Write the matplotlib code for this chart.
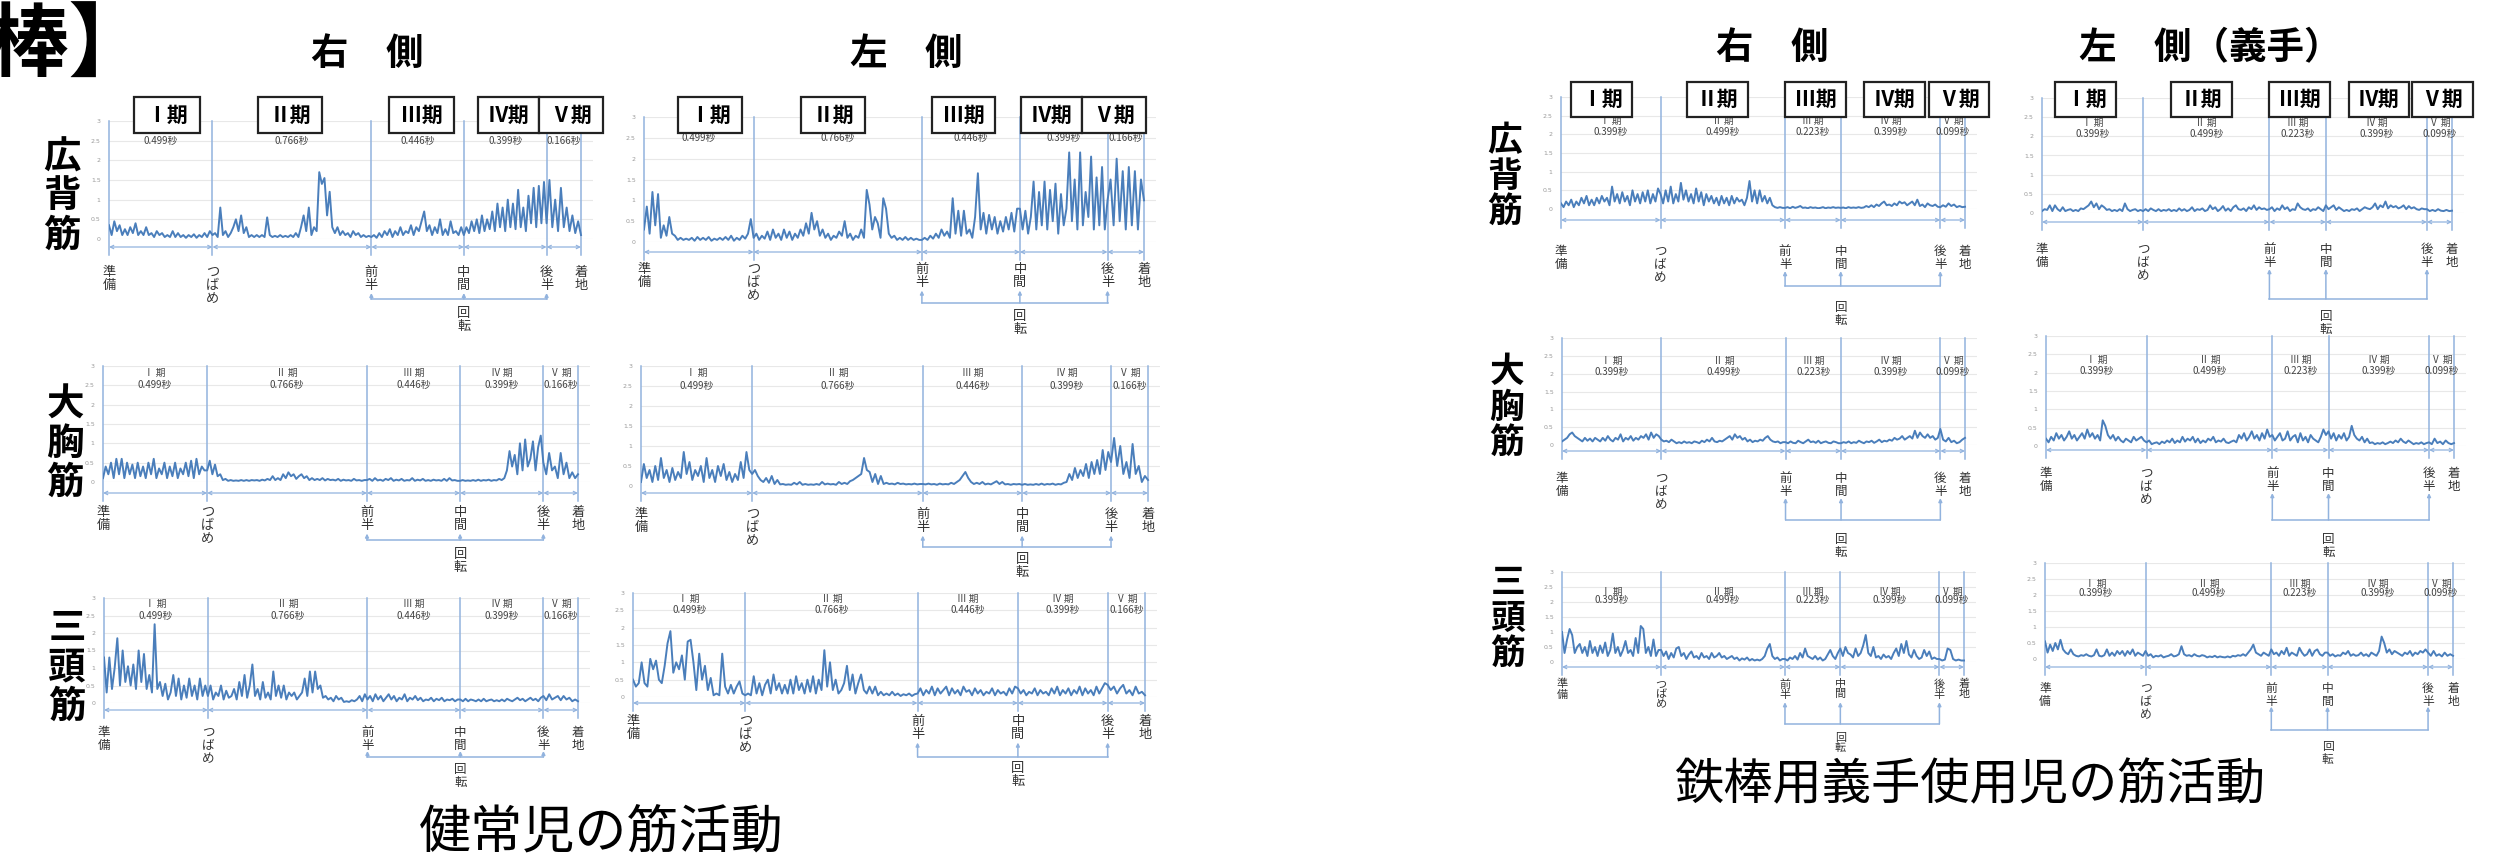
import matplotlib
matplotlib.use("Agg")
import matplotlib.pyplot as plt
from matplotlib.patches import Rectangle
import numpy as np

plt.rcParams['font.family'] = ['Noto Sans CJK JP', 'DejaVu Sans']

W, H = 2518, 865

phase_names = ["Ⅰ 期", "Ⅱ 期", "Ⅲ 期", "Ⅳ 期", "Ⅴ 期"]
box_names = ["Ⅰ期", "Ⅱ期", "Ⅲ期", "Ⅳ期", "Ⅴ期"]
healthy_sec = [0.499, 0.766, 0.446, 0.399, 0.166]
prosth_sec = [0.399, 0.499, 0.223, 0.399, 0.099]
event_labels = ["準\n備", "つ\nば\nめ", "前\n半", "中\n間", "後\n半", "着\n地"]
muscles = ["広\n背\n筋", "大\n胸\n筋", "三\n頭\n筋"]
y_ticks = [0, 0.5, 1, 1.5, 2, 2.5, 3]
y_tick_labels = ["0", "0.5", "1", "1.5", "2", "2.5", "3"]

# EMG, in 1/100 units, one list per phase (I..V)
h_lat_r = [
    [35,10,45,20,35,10,25,10,30,15,40,10,20,10,30,10,15,5,20,10,15,5,10,5,20,5,15,5,10,3,10,5,12,3,10,5,15,5,20],
    [10,15,5,80,10,20,5,15,30,50,20,60,15,30,5,10,5,10,5,10,5,55,10,5,8,5,10,5,8,5,10,5,15,5,30,60,20,80,10,30,20,170,140,155,60,120,30,15,30,10,20,10,15,5,20,10,15,5,10,5,8],
    [5,10,3,15,5,20,10,25,5,20,10,30,10,20,15,35,10,30,20,45,70,20,35,10,30,15,50,10,25,10,45,15,20,10,30],
    [10,30,15,45,20,50,15,60,20,50,25,70,20,90,30,80,20,100,30,90,25,125,30,80,20,110,40,130,30,135,40,145],
    [40,150,30,100,20,130,30,80,20,60,15,45,10],
]
h_lat_l = [
    [30,85,20,120,40,115,10,40,15,60,20,15,5,10,5,8,5,10,3,12,5,10,5,12,3,8,5,10,5,12,5,15,3,10,5,15,8,20,55],
    [10,20,5,15,8,25,5,30,10,20,5,30,10,25,5,20,10,30,15,45,20,70,30,50,15,30,10,20,5,15,10,25,15,50,10,20,5,15,10,30,10,125,90,30,60,45,10,105,80,20,10,15,5,10,5,12,5,10,5,8,5],
    [5,10,5,15,8,20,10,30,15,25,10,105,20,75,15,75,20,30,10,60,165,30,70,20,65,30,60,20,50,25,60,30,70,25,80],
    [80,30,75,20,60,145,30,120,40,145,30,125,50,140,20,115,40,80,215,50,150,30,215,40,120,60,205,30,155,40,180,30],
    [100,150,40,200,50,170,30,180,40,170,30,150,100],
]
h_pec_r = [
    [10,40,20,50,10,60,20,60,10,50,20,45,10,50,15,40,10,50,20,60,10,35,20,50,10,40,15,50,10,35,20,50,15,55,10,60,20,40,30],
    [30,55,20,45,15,20,5,8,3,5,3,4,3,5,3,5,3,5,4,5,3,6,4,8,5,15,5,10,5,20,10,25,15,20,8,15,20,10,15,5,10,5,8,5,10,4,8,5,6,4,8,3,6,4,5,3,8,4,5,3,5],
    [5,8,3,10,4,6,3,8,5,10,3,6,4,8,3,5,4,10,3,6,4,8,3,5,3,6,4,5,3,8,3,10,4,5,3],
    [3,5,3,4,3,5,3,6,3,5,4,6,3,5,4,8,5,10,30,80,40,70,20,100,30,110,40,60,105,30,90,120],
    [50,20,75,30,40,10,75,20,50,10,25,10,20],
]
h_pec_l = [
    [10,55,20,40,10,50,15,70,20,40,10,45,15,35,20,85,30,60,15,40,25,50,10,70,20,40,10,50,25,55,15,35,10,30,15,60,20,85,40],
    [30,40,25,15,10,20,8,25,5,15,4,5,3,4,3,8,4,10,3,5,3,4,3,5,3,10,4,6,4,5,3,10,5,8,5,12,15,20,25,30,70,40,35,10,30,5,25,5,8,5,6,4,8,5,6,4,5,4,6,4,5],
    [5,4,6,4,5,3,6,4,5,4,8,5,10,15,25,35,20,10,5,8,5,10,4,6,4,8,12,5,10,4,5,3,5,4,5],
    [3,5,3,4,3,5,3,6,3,5,4,6,3,5,4,8,10,30,15,45,20,40,25,55,20,60,30,65,30,90,40,85],
    [60,120,50,100,30,60,20,105,30,50,10,25,15],
]
h_tri_r = [
    [130,30,130,40,100,185,50,150,60,105,50,110,40,150,60,140,40,80,30,225,40,60,20,55,10,30,80,20,70,10,50,15,70,20,50,10,70,20,50],
    [20,50,10,30,20,50,10,35,15,20,40,10,60,20,80,15,50,110,20,40,10,60,15,30,10,90,20,50,15,50,10,30,20,30,10,20,30,70,20,90,30,90,40,50,15,20,10,15,5,20,10,15,3,5,3,8,5,10,20,5,25],
    [10,20,5,25,10,20,5,15,25,10,20,5,15,10,25,5,15,10,20,8,15,5,10,8,15,5,12,8,15,5,10,8,12,5,10],
    [10,5,12,5,10,8,5,10,5,12,5,8,10,5,8,5,10,5,12,8,5,10,15,8,12,5,10,15,8,12,5,15],
    [20,8,25,10,15,20,8,20,10,15,5,10,5],
]
h_tri_l = [
    [50,30,40,100,40,30,110,80,105,50,40,90,155,190,70,100,80,120,50,160,165,100,20,125,50,90,20,55,5,10,5,125,30,10,35,10,30,45,10],
    [5,10,5,60,10,40,5,35,50,10,65,20,40,10,35,10,50,10,60,20,40,10,50,15,60,10,50,20,135,30,100,20,50,10,20,40,90,20,65,10,40,65,20,10,30,10,30,5,15,5,10,5,15,5,10,3,8,5,10,3,8],
    [10,25,5,20,10,30,5,25,10,20,30,5,25,10,20,5,30,15,20,5,25,10,20,5,15,10,25,5,20,10,15,5,25,10,30],
    [25,10,20,5,15,10,25,5,20,10,15,5,25,10,30,5,20,10,25,5,20,10,30,5,25,10,20,5,30,10,25,40],
    [35,20,30,10,25,35,10,20,5,30,10,15,5],
]
p_lat_r = [
    [15,5,20,10,25,5,20,10,30,15,35,10,25,10,30,15,35,20,30,10,60,20,40,15,45,20,35,10,50,20,40,15,45,20,50,15,40,20,55],
    [40,15,50,20,60,15,40,20,70,25,50,20,40,15,55,20,45,10,40,20,35,15,30,10,35,15,30,10,35,15,30,20,25,10,30,75,20,50,15,50,20,35,15,30,10,5,3,5,3],
    [3,5,2,6,3,5,8,3,4,2,5,3,4,2,3,5,2,4,3,5,3,4],
    [3,4,2,5,3,4,3,5,3,4,8,5,10,5,12,8,15,20,10,12,8,15,10,20,15,18,10,15,20,10,25,8,12,5,15,10,8,12,6],
    [5,10,6,15,8,12,5,8,5,6],
]
p_lat_l = [
    [5,10,8,20,5,20,10,5,15,5,8,10,5,8,5,12,10,15,20,30,15,25,10,20,15,8,10,5,8,5,10,5,25,10,5,8,10,5,8],
    [5,10,5,12,8,5,10,5,8,6,10,5,8,5,12,6,10,5,8,15,5,10,8,12,5,8,20,10,15,5,10,18,6,12,5,15,20,10,8,12,5,15,10,20,8,15,10,12,8],
    [10,15,5,12,8,20,10,15,5,10,8,25,15,10,8,12,5,10,8,15,10,5],
    [20,10,15,20,8,15,10,5,8,5,10,8,12,5,10,15,12,10,15,25,10,20,15,30,12,20,15,18,12,15,20,10,18,12,15,10,8,12,10],
    [10,5,8,5,10,6,5,8,5,6],
]
p_pec_r = [
    [10,15,20,30,35,25,20,15,10,20,12,18,10,20,15,10,20,12,25,15,10,20,15,30,10,20,15,25,12,20,15,25,20,30,15,35,20,30,25],
    [15,10,12,8,15,10,5,8,5,10,6,8,5,10,8,5,12,8,15,10,20,10,8,12,10,15,20,25,15,30,20,25,15,20,10,15,8,12,10,15,12,20,25,15,10,8,10,5,8],
    [8,5,10,6,5,12,8,5,10,15,8,10,6,12,5,8,10,6,5,10,8,5],
    [5,8,6,10,5,8,6,12,8,5,10,8,12,6,10,15,8,12,10,15,12,20,15,18,25,15,20,25,18,40,20,35,25,20,30,20,25,15,20],
    [45,15,10,20,8,12,5,8,15,20],
]
p_pec_l = [
    [20,10,25,15,35,20,30,15,25,40,20,30,15,25,35,20,45,25,35,20,30,15,70,55,30,20,30,15,25,15,10,20,15,10,25,15,20,25,15],
    [10,15,5,8,10,5,12,8,15,10,20,8,15,10,25,12,20,15,25,10,20,8,15,10,20,15,25,10,15,12,20,10,8,12,15,10,30,20,35,15,25,40,20,30,15,35,20,45,25],
    [30,15,25,35,15,20,40,15,25,30,10,35,15,25,10,30,20,15,10,25,45,30],
    [40,20,35,15,30,20,35,15,25,55,30,20,15,25,10,20,8,10,5,8,6,10,5,8,12,8,15,10,20,12,8,15,10,5,8,6,10,5,8],
    [10,5,20,8,12,5,15,8,5,8],
]
p_tri_r = [
    [100,30,75,110,90,30,50,60,30,50,20,70,30,50,20,55,30,65,20,40,95,30,50,20,40,70,30,40,20,80,30,120,110,30,50,20,75,20,40],
    [40,20,35,10,30,15,45,50,20,30,10,25,35,15,20,10,30,15,20,10,30,15,20,30,15,20,10,15,20,10,15,5,12,8,15,5,10,5,8,5,10,20,45,60,20,10,15,5,10],
    [10,5,15,10,20,8,30,15,45,20,15,10,20,8,15,5,10,25,40,20,10,30],
    [45,20,50,30,25,15,45,20,30,55,90,30,20,50,15,20,10,25,15,20,10,30,45,20,60,30,70,25,15,40,20,10,15,40,20,35,10,15,10],
    [10,5,8,45,40,10,5,8,5,5],
]
p_tri_l = [
    [55,20,45,25,50,30,60,30,20,15,30,15,10,8,12,10,15,10,8,12,30,10,8,12,30,10,20,10,25,15,25,10,25,15,30,10,20,15,10],
    [25,10,15,5,10,8,12,5,8,10,15,8,10,15,40,15,10,12,8,15,10,8,12,10,5,8,6,10,5,8,6,5,8,5,10,8,12,10,15,10,20,30,45,20,15,10,20,15,10],
    [30,15,20,10,25,15,35,10,20,15,10,35,20,10,15,30,10,25,30,15,10,20],
    [20,10,15,8,12,10,20,15,25,10,15,10,12,20,10,15,8,20,15,10,25,70,50,20,30,15,25,20,15,10,20,15,25,10,20,15,25,20,30],
    [20,10,25,10,15,8,20,10,15,10],
]

EMG = '#4a7ebb'
GUIDE = '#92b3de'

fig = plt.figure(figsize=(W / 100, H / 100), dpi=100)
fig.patch.set_facecolor('white')


def draw_panel(emg, secs, x0, x1, y0, y3, offs, fs, show_phase=True):
    arrow_px, label_px, bracket_px, turn_px = offs
    ppu = (y0 - y3) / 3.0
    total = sum(secs)
    extra = 12
    ax = fig.add_axes([x0 / W, 1 - y0 / H, (x1 - x0 + extra) / W, (y0 - y3) / H])
    ax.set_xlim(0, total * (x1 - x0 + extra) / (x1 - x0))
    ax.set_ylim(0, 3)
    for s in ax.spines.values():
        s.set_visible(False)
    ax.set_xticks([])
    ax.set_yticks(y_ticks)
    ax.set_yticklabels(y_tick_labels, fontsize=4.5, color='#9a9a9a', family='DejaVu Sans')
    ax.tick_params(axis='y', length=0, pad=6)
    ax.grid(axis='y', color='#e8e8e8', lw=0.8)
    ax.set_axisbelow(True)
    ax.patch.set_alpha(0)

    b = np.concatenate([[0], np.cumsum(secs)])
    xs, ys = [], []
    for k, seg in enumerate(emg):
        xs.append(np.linspace(b[k], b[k + 1], len(seg), endpoint=(k == len(emg) - 1)))
        ys.append(np.array(seg) / 100.0)
    ax.plot(np.concatenate(xs), np.concatenate(ys), color=EMG, lw=1.4, zorder=3)

    def dy(px):
        return -px / ppu

    for t in b:
        ax.plot([t, t], [3, dy(arrow_px + 8)], color=GUIDE, lw=1.1, clip_on=False, zorder=2)
    ya, yb = (2.82, 2.5) if secs is healthy_sec else (2.35, 2.05)
    for k in range(5):
        ax.annotate('', xy=(b[k + 1], dy(arrow_px)), xytext=(b[k], dy(arrow_px)),
                    arrowprops=dict(arrowstyle='<->', color=GUIDE, lw=0.9, shrinkA=0, shrinkB=0,
                                    mutation_scale=6), annotation_clip=False)
        mid = (b[k] + b[k + 1]) / 2
        if show_phase:
            ax.text(mid, ya, phase_names[k], ha='center', va='center', fontsize=7, color='#444444')
        ax.text(mid, yb, f"{secs[k]:.3f}秒", ha='center', va='center', fontsize=7, color='#444444')
    for t, lab in zip(b, event_labels):
        ax.text(t, dy(label_px), lab, ha='center', va='top', fontsize=fs, color='#333333',
                linespacing=1.0, clip_on=False)
    # rotation bracket
    ybr = dy(bracket_px)
    tip = dy(min(label_px + 2.9 * fs, bracket_px - 6))
    ax.plot([b[2], b[4]], [ybr, ybr], color=GUIDE, lw=1.1, clip_on=False)
    for t in (b[2], b[3], b[4]):
        ax.annotate('', xy=(t, tip), xytext=(t, ybr),
                    arrowprops=dict(arrowstyle='-|>', color=GUIDE, lw=1.1, shrinkA=0, shrinkB=0,
                                    mutation_scale=5), annotation_clip=False)
    ax.text(b[3], dy(turn_px), "回\n転", ha='center', va='top', fontsize=fs, color='#333333',
            linespacing=1.0, clip_on=False)
    return ax


# data, durations, left px, right px, zero px, top px, (arrow, label, bracket, turn) offsets, label size
panels = [
    (h_lat_r, healthy_sec, 109, 581, 239, 121, (8, 27, 60, 68), 9.5, False),
    (h_lat_l, healthy_sec, 644, 1144, 242, 117, (10, 21, 61, 68), 9.5, False),
    (h_pec_r, healthy_sec, 103, 578, 482, 366, (11, 24, 58, 66), 9.5),
    (h_pec_l, healthy_sec, 641, 1148, 486, 366, (7, 22, 61, 67), 9.5),
    (h_tri_r, healthy_sec, 104, 578, 703, 598, (7, 23, 54, 60), 9),
    (h_tri_l, healthy_sec, 633, 1145, 697, 593, (6, 18, 60, 65), 9.5),
    (p_lat_r, prosth_sec, 1561, 1965, 209, 97, (11, 36, 77, 92), 9),
    (p_lat_l, prosth_sec, 2042, 2452, 213, 98, (9, 30, 86, 97), 9),
    (p_pec_r, prosth_sec, 1562, 1965, 445, 338, (6, 27, 75, 88), 9),
    (p_pec_l, prosth_sec, 2046, 2454, 446, 336, (4, 21, 74, 87), 9),
    (p_tri_r, prosth_sec, 1562, 1964, 662, 572, (5, 17, 62, 71), 8),
    (p_tri_l, prosth_sec, 2045, 2453, 659, 563, (8, 23, 71, 81), 8.5),
]
for p in panels:
    draw_panel(*p)

# phase boxes above the top row
boxes = [
    ([(134, 200), (258, 322), (389, 454), (478, 539), (539, 603)], 97, 133),
    ([(678, 742), (801, 865), (932, 995), (1021, 1082), (1082, 1146)], 97, 133),
    ([(1571, 1632), (1687, 1748), (1785, 1846), (1864, 1925), (1929, 1989)], 82, 117),
    ([(2055, 2116), (2171, 2232), (2269, 2330), (2349, 2409), (2412, 2473)], 82, 117),
]
for edges, top, bot in boxes:
    for (l, r), name in zip(edges, box_names):
        fig.add_artist(Rectangle((l / W, 1 - bot / H), (r - l) / W, (bot - top) / H,
                                 transform=fig.transFigure, fc='white', ec='#222222', lw=1.6, zorder=5))
        fig.text((l + r) / 2 / W, 1 - (top + bot) / 2 / H, name, ha='center', va='center',
                 fontsize=15, fontweight='bold', zorder=6)

# row labels
for (x, y), m in zip([(62, 196), (65, 443), (67, 667)], muscles):
    fig.text(x / W, 1 - y / H, m, ha='center', va='center', fontsize=27, fontweight='bold', linespacing=1.0)
for (x, y), m in zip([(1505, 176), (1507, 407), (1508, 618)], muscles):
    fig.text(x / W, 1 - y / H, m, ha='center', va='center', fontsize=25, fontweight='bold', linespacing=1.0)

# column headings
for x, y, s in [(367, 53, "右　側"), (906, 53, "左　側"), (1772, 48, "右　側"), (2210, 48, "左　側（義手）")]:
    fig.text(x / W, 1 - y / H, s, ha='center', va='center', fontsize=27, fontweight='bold')

fig.text(150 / W, 1 - 46 / H, "【鉄棒】", ha='right', va='center', fontsize=58, fontweight='bold')
fig.text(601 / W, 1 - 833 / H, "健常児の筋活動", ha='center', va='center', fontsize=37.5)
fig.text(1970 / W, 1 - 785 / H, "鉄棒用義手使用児の筋活動", ha='center', va='center', fontsize=35.5)

fig.savefig('out.png', dpi=100, facecolor='white')
